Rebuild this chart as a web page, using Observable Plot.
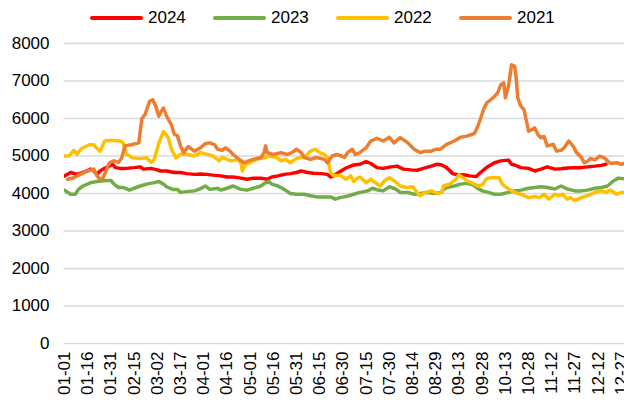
<!DOCTYPE html>
<html>
<head>
<meta charset="utf-8">
<script src="https://cdn.jsdelivr.net/npm/d3@7"></script>
<script src="https://cdn.jsdelivr.net/npm/@observablehq/plot@0.6"></script>
<style>
  body { margin: 0; background: #fff; font-family: "Liberation Sans", Arial, sans-serif; }
  #legend { position: relative; width: 624px; height: 32px; font-size: 17px; color: #000; }
  .sw { position: absolute; top: 16px; width: 53px; height: 4px; border-radius: 2px; }
  .lb { position: absolute; top: 8px; line-height: 19px; }
</style>
</head>
<body>
<div id="legend"></div>
<div id="chart"></div>
<script>
/* global d3, Plot */

const years = ['2024', '2023', '2022', '2021'];
const colors = ['#ff0000', '#70ad47', '#ffc000', '#ed7d31'];

// x tick positions (day of year, 0 = 01-01) and their labels
const tickDays = [0, 15, 30, 45, 60, 75, 90, 105, 120, 135, 150, 165, 180, 195, 210, 225, 240, 255, 270, 285, 300, 315, 330, 345, 360];
const tickLabels = ['01-01', '01-16', '01-31', '02-15', '03-02', '03-17', '04-01', '04-16', '05-01', '05-16', '05-31', '06-15', '06-30', '07-15', '07-30', '08-14', '08-29', '09-13', '09-28', '10-13', '10-28', '11-12', '11-27', '12-12', '12-27'];
const yTicks = [0, 1000, 2000, 3000, 4000, 5000, 6000, 7000, 8000];

// [day, value]
const s2024 = [[0,4470],[4,4560],[8,4510],[12,4560],[17,4650],[19,4600],[21,4510],[23,4600],[25,4650],[29,4730],[31,4780],[33,4690],[36,4670],[40,4670],[45,4690],[49,4710],[51,4650],[56,4670],[60,4630],[62,4600],[66,4600],[71,4560],[75,4560],[79,4530],[84,4510],[88,4520],[92,4510],[96,4490],[101,4470],[105,4440],[109,4440],[114,4410],[118,4380],[122,4410],[127,4410],[131,4380],[134,4440],[138,4470],[142,4510],[146,4530],[150,4560],[153,4600],[157,4560],[161,4540],[166,4530],[170,4510],[172,4440],[174,4470],[178,4580],[182,4680],[185,4730],[187,4760],[191,4780],[195,4850],[198,4800],[202,4690],[206,4670],[211,4710],[215,4730],[219,4650],[224,4630],[228,4620],[232,4670],[237,4730],[241,4780],[244,4760],[247,4690],[251,4530],[254,4500],[258,4500],[262,4470],[266,4450],[269,4560],[273,4700],[278,4820],[282,4870],[287,4890],[289,4780],[291,4760],[295,4690],[300,4670],[304,4600],[308,4650],[312,4710],[317,4650],[321,4660],[325,4680],[330,4690],[334,4690],[338,4710],[343,4730],[347,4750],[350,4780]];

const s2023 = [[0,4090],[4,3980],[7,3980],[9,4110],[12,4200],[17,4290],[21,4320],[25,4340],[30,4350],[32,4250],[35,4160],[38,4160],[42,4090],[45,4140],[49,4200],[53,4250],[58,4290],[61,4320],[64,4250],[66,4180],[70,4110],[73,4110],[75,4030],[79,4050],[84,4070],[88,4130],[91,4200],[94,4110],[99,4140],[101,4090],[105,4140],[109,4200],[114,4110],[118,4090],[122,4140],[127,4200],[130,4290],[132,4320],[134,4250],[138,4200],[142,4110],[146,4000],[150,3980],[155,3980],[159,3940],[163,3910],[168,3910],[172,3910],[175,3850],[178,3890],[183,3930],[187,3980],[191,4030],[196,4070],[199,4140],[202,4100],[206,4070],[210,4180],[214,4120],[217,4030],[222,4030],[226,3980],[230,4000],[234,4030],[239,4000],[243,4030],[247,4160],[252,4200],[256,4250],[260,4270],[264,4230],[267,4140],[270,4070],[274,4030],[278,3980],[282,3980],[287,4030],[291,4070],[295,4090],[300,4140],[304,4160],[308,4180],[312,4160],[317,4120],[321,4200],[325,4120],[330,4070],[334,4070],[338,4090],[343,4140],[347,4160],[351,4200],[355,4340],[358,4410],[364,4380]];

const s2022 = [[0,5000],[3,5000],[6,5150],[8,5050],[11,5200],[16,5300],[19,5300],[21,5200],[23,5130],[26,5400],[30,5420],[36,5400],[38,5350],[40,5050],[44,4950],[49,4930],[53,4950],[56,4830],[58,4900],[61,5350],[64,5650],[67,5500],[69,5200],[72,4950],[75,5050],[79,5050],[84,5000],[88,5090],[92,5050],[96,5000],[100,4870],[102,4960],[105,4910],[108,4870],[112,4910],[114,4820],[115,4600],[117,4780],[120,4820],[124,4910],[129,4960],[133,5000],[137,4960],[140,4870],[143,4910],[146,4820],[149,4910],[152,4960],[156,5000],[159,5130],[162,5180],[165,5090],[168,5040],[170,4960],[172,4560],[174,4470],[178,4490],[182,4380],[185,4470],[187,4320],[189,4400],[191,4440],[195,4290],[198,4380],[201,4290],[204,4200],[207,4340],[210,4420],[213,4340],[217,4200],[221,4160],[225,4180],[228,4030],[230,3940],[233,4030],[237,4070],[241,4000],[244,4030],[245,4200],[249,4250],[253,4380],[255,4500],[257,4440],[260,4340],[264,4270],[267,4200],[270,4230],[273,4400],[276,4420],[281,4420],[283,4250],[287,4120],[291,4030],[295,3980],[300,3890],[304,3920],[307,3890],[310,3980],[313,3850],[317,3980],[319,3940],[322,3980],[325,3850],[327,3890],[330,3810],[334,3890],[338,3940],[343,4030],[347,4070],[350,4030],[353,4090],[357,3980],[360,4030],[364,4030]];

const s2021 = [[2,4380],[6,4420],[10,4510],[15,4600],[19,4650],[21,4470],[23,4380],[25,4420],[29,4820],[32,4870],[35,4830],[37,4950],[39,5270],[43,5300],[48,5350],[50,6000],[52,6100],[55,6460],[57,6500],[59,6330],[61,6060],[62,6150],[64,6280],[66,6060],[69,5840],[71,5580],[73,5540],[75,5270],[77,5090],[80,5250],[84,5130],[88,5220],[91,5330],[94,5350],[97,5300],[99,5180],[102,5150],[104,5220],[107,5130],[109,5040],[113,4910],[116,4820],[119,4870],[122,4910],[127,4960],[129,5090],[130,5270],[131,5090],[135,5040],[140,5090],[144,5040],[147,5090],[150,5180],[153,5090],[155,4960],[159,4910],[163,4960],[168,4910],[170,4820],[173,5000],[176,5040],[179,5000],[181,4960],[183,5090],[186,5180],[188,5040],[191,5090],[195,5220],[198,5400],[202,5470],[206,5400],[210,5500],[213,5350],[217,5490],[222,5350],[226,5180],[230,5090],[233,5130],[237,5130],[240,5180],[243,5180],[247,5310],[252,5400],[256,5500],[260,5530],[265,5600],[267,5780],[269,6000],[271,6250],[273,6420],[277,6550],[280,6680],[282,6900],[284,6950],[285,6550],[287,6860],[289,7430],[291,7390],[292,7080],[293,6550],[295,6330],[297,6240],[300,5660],[302,5700],[304,5750],[306,5570],[308,5490],[310,5520],[312,5270],[316,5310],[318,5130],[321,5150],[323,5220],[326,5400],[329,5250],[331,5090],[334,4970],[336,4820],[338,4860],[340,4930],[343,4900],[346,5000],[349,4950],[351,4870],[353,4800],[357,4820],[360,4780],[362,4800],[364,4790]];

const series = [s2024, s2023, s2022, s2021];

// legend
const legend = document.getElementById('legend');
years.forEach((yr, i) => {
  const left = 90 + i * 123;
  const sw = document.createElement('div');
  sw.className = 'sw';
  sw.style.left = left + 'px';
  sw.style.background = colors[i];
  const lb = document.createElement('div');
  lb.className = 'lb';
  lb.style.left = (left + 58) + 'px';
  lb.textContent = yr;
  legend.append(sw, lb);
});

const chart = Plot.plot({
  width: 624,
  height: 371,
  marginLeft: 64,
  marginRight: 0,
  marginTop: 11,
  marginBottom: 60,
  style: { fontFamily: '"Liberation Sans", Arial, sans-serif', fontSize: '17px', color: '#000', background: '#fff' },
  x: {
    domain: [0, 362],
    ticks: tickDays,
    tickFormat: d => tickLabels[tickDays.indexOf(d)],
    tickRotate: -90,
    tickSize: 0,
    tickPadding: 8,
    label: null
  },
  y: { domain: [0, 8000], ticks: yTicks, tickFormat: d => String(d), tickSize: 0, tickPadding: 15, label: null },
  marks: [
    Plot.gridY(yTicks, { stroke: '#d9d9d9', strokeOpacity: 1, strokeWidth: 1.5 }),
    ...series.map((s, i) => Plot.line(s, {
      x: d => d[0],
      y: d => d[1],
      stroke: colors[i],
      strokeWidth: 3.5,
      strokeLinejoin: 'round',
      clip: true
    }))
  ]
});
document.getElementById('chart').append(chart);
</script>
</body>
</html>
